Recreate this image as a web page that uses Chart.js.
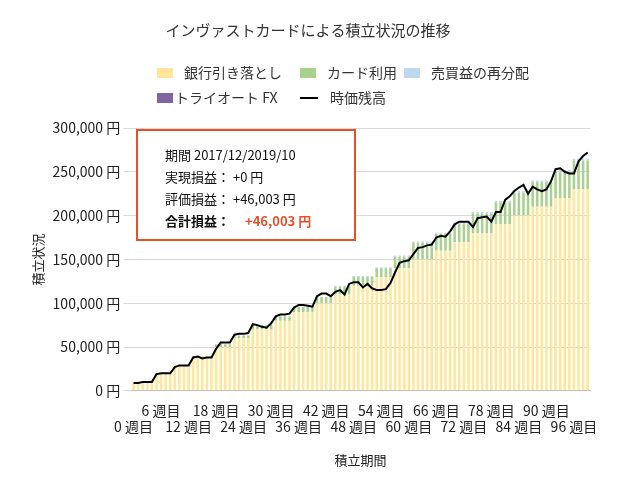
<!DOCTYPE html>
<html><head><meta charset="utf-8">
<script src="https://cdn.jsdelivr.net/npm/chart.js@4/dist/chart.umd.min.js"></script>
<style>body{margin:0;background:#fff}#w{width:640px;height:480px}</style>
</head><body><div id="w"><canvas id="c"></canvas></div>
<script>
const monthLengths=[5,4,4,5,4,4,5,4,5,4,4,5,4,4,5,4,4,5,4,4,5,4,4];
const bankMonthly=[10000,20000,30000,40000,50000,60000,70000,80000,90000,100000,110000,120000,130000,140000,150000,160000,170000,180000,190000,200000,210000,220000,230000];
const cardMonthly=[0,0,0,0,3000,3000,5000,5000,6000,7000,9000,10000,10000,13000,19000,19000,20000,22000,25000,26000,28000,30000,33000];
const profitMonthly=[0,0,0,0,0,0,0,0,0,0,1000,1000,1000,1500,1500,1500,2000,2000,2000,2000,2000,2000,2000];
const fxMonthly=[0,0,0,0,0,0,0,0,0,0,0,0,0,0,0,0,0,0,0,0,0,0,0];
const marketValue=[9,9,10,10,10, 19,20,20,20, 27,29,29,29, 38,39,37,38,38, 48,55,55,55, 64,65,65,66, 76,75,73,72,77, 85,87,87,88, 95,98,98,97,96, 108,111,111,108, 113,115,110,122, 124,124,118,122,117, 115,115,116,123, 135,146,148,149, 156,163,164,166,167, 175,177,176,182, 190,193,193,193, 187,197,198,199,193, 204,204,218,222, 228,232,235,225, 233,230,228,230,239, 253,254,250,248, 248,262,268,272].map(v=>v*1000);
const legendLabels=['銀行引き落とし','カード利用','売買益の再分配','トライオート FX','時価残高'];
function expand(m){const o=[];m.forEach((v,i)=>{for(let k=0;k<monthLengths[i];k++)o.push(v);});return o;}
const weeks=marketValue.map((_,i)=>i);
const F='"Noto Sans CJK JP", sans-serif';
const colors=['#ffe699','#a9d18e','#bdd7ee','#8064a2','#000'];
const barDs=(lab,data,col)=>({type:'bar',label:lab,data:data,backgroundColor:col,stack:'s',barPercentage:0.55,categoryPercentage:1,order:1});
const legendPlugin={id:'lg',afterDraw(ch){const c=ch.ctx;c.save();c.font='14px '+F;c.textBaseline='middle';
 const pos=[[157,73],[300,73],[404,73],[157,98],[300,98]];
 pos.forEach((p,i)=>{ if(i==4){c.strokeStyle='#000';c.lineWidth=2;c.beginPath();c.moveTo(p[0],p[1]);c.lineTo(p[0]+18,p[1]);c.stroke();c.fillStyle='#333';c.fillText(legendLabels[i],p[0]+30,p[1]);}
 else{c.fillStyle=colors[i];c.fillRect(p[0],p[1]-5,16,10);c.fillStyle='#333';c.fillText(legendLabels[i],p[0]+(i==3?18:27),p[1]);}});
 c.fillStyle='#fff';c.fillRect(137,130,218,110);c.strokeStyle='#e8502a';c.lineWidth=2;c.strokeRect(137,130,218,110);
 c.fillStyle='#111';c.font='13px '+F;c.fillText('期間 2017/12/2019/10',165,155);c.fillText('実現損益： +0 円',165,177);c.fillText('評価損益： +46,003 円',165,199);
 c.font='bold 13px '+F;c.fillText('合計損益：',165,221);c.fillStyle='#e8502a';c.fillText('+46,003 円',245,221);c.restore();}};
new Chart(document.getElementById('c'),{
 data:{labels:weeks,datasets:[
  barDs(legendLabels[0],expand(bankMonthly),colors[0]),
  barDs(legendLabels[1],expand(cardMonthly),colors[1]),
  barDs(legendLabels[2],expand(profitMonthly),colors[2]),
  barDs(legendLabels[3],expand(fxMonthly),colors[3]),
  {type:'line',label:legendLabels[4],data:marketValue,borderColor:'#000',borderWidth:2,pointRadius:0,stack:'line',order:0,tension:0}
 ]},
 options:{responsive:true,maintainAspectRatio:false,animation:false,
  layout:{padding:{left:26,right:50,bottom:8}},
  plugins:{legend:{display:false},tooltip:{enabled:false},
   title:{display:true,text:'インヴァストカードによる積立状況の推移',font:{family:F,size:15,weight:'normal'},color:'#333',padding:{top:21,bottom:89}}},
  scales:{
   x:{stacked:true,grid:{display:false},border:{color:'#bbb'},
    ticks:{autoSkip:false,maxRotation:0,minRotation:0,color:'#222',font:{family:F,size:14},
     callback:(v)=>v%12==6?[v+' 週目','']:(v%12==0?['',v+' 週目']:'')},
    title:{display:true,text:'積立期間',font:{family:F,size:13},color:'#222',padding:{top:14}}},
   y:{stacked:true,min:0,max:300000,border:{display:false},grid:{color:'#d9d9d9'},
    ticks:{stepSize:50000,color:'#222',font:{family:F,size:14},callback:v=>v.toLocaleString('en-US')+' 円'},
    title:{display:true,text:'積立状況',font:{family:F,size:13},color:'#222'}}}}
 ,plugins:[legendPlugin]});
</script></body></html>
